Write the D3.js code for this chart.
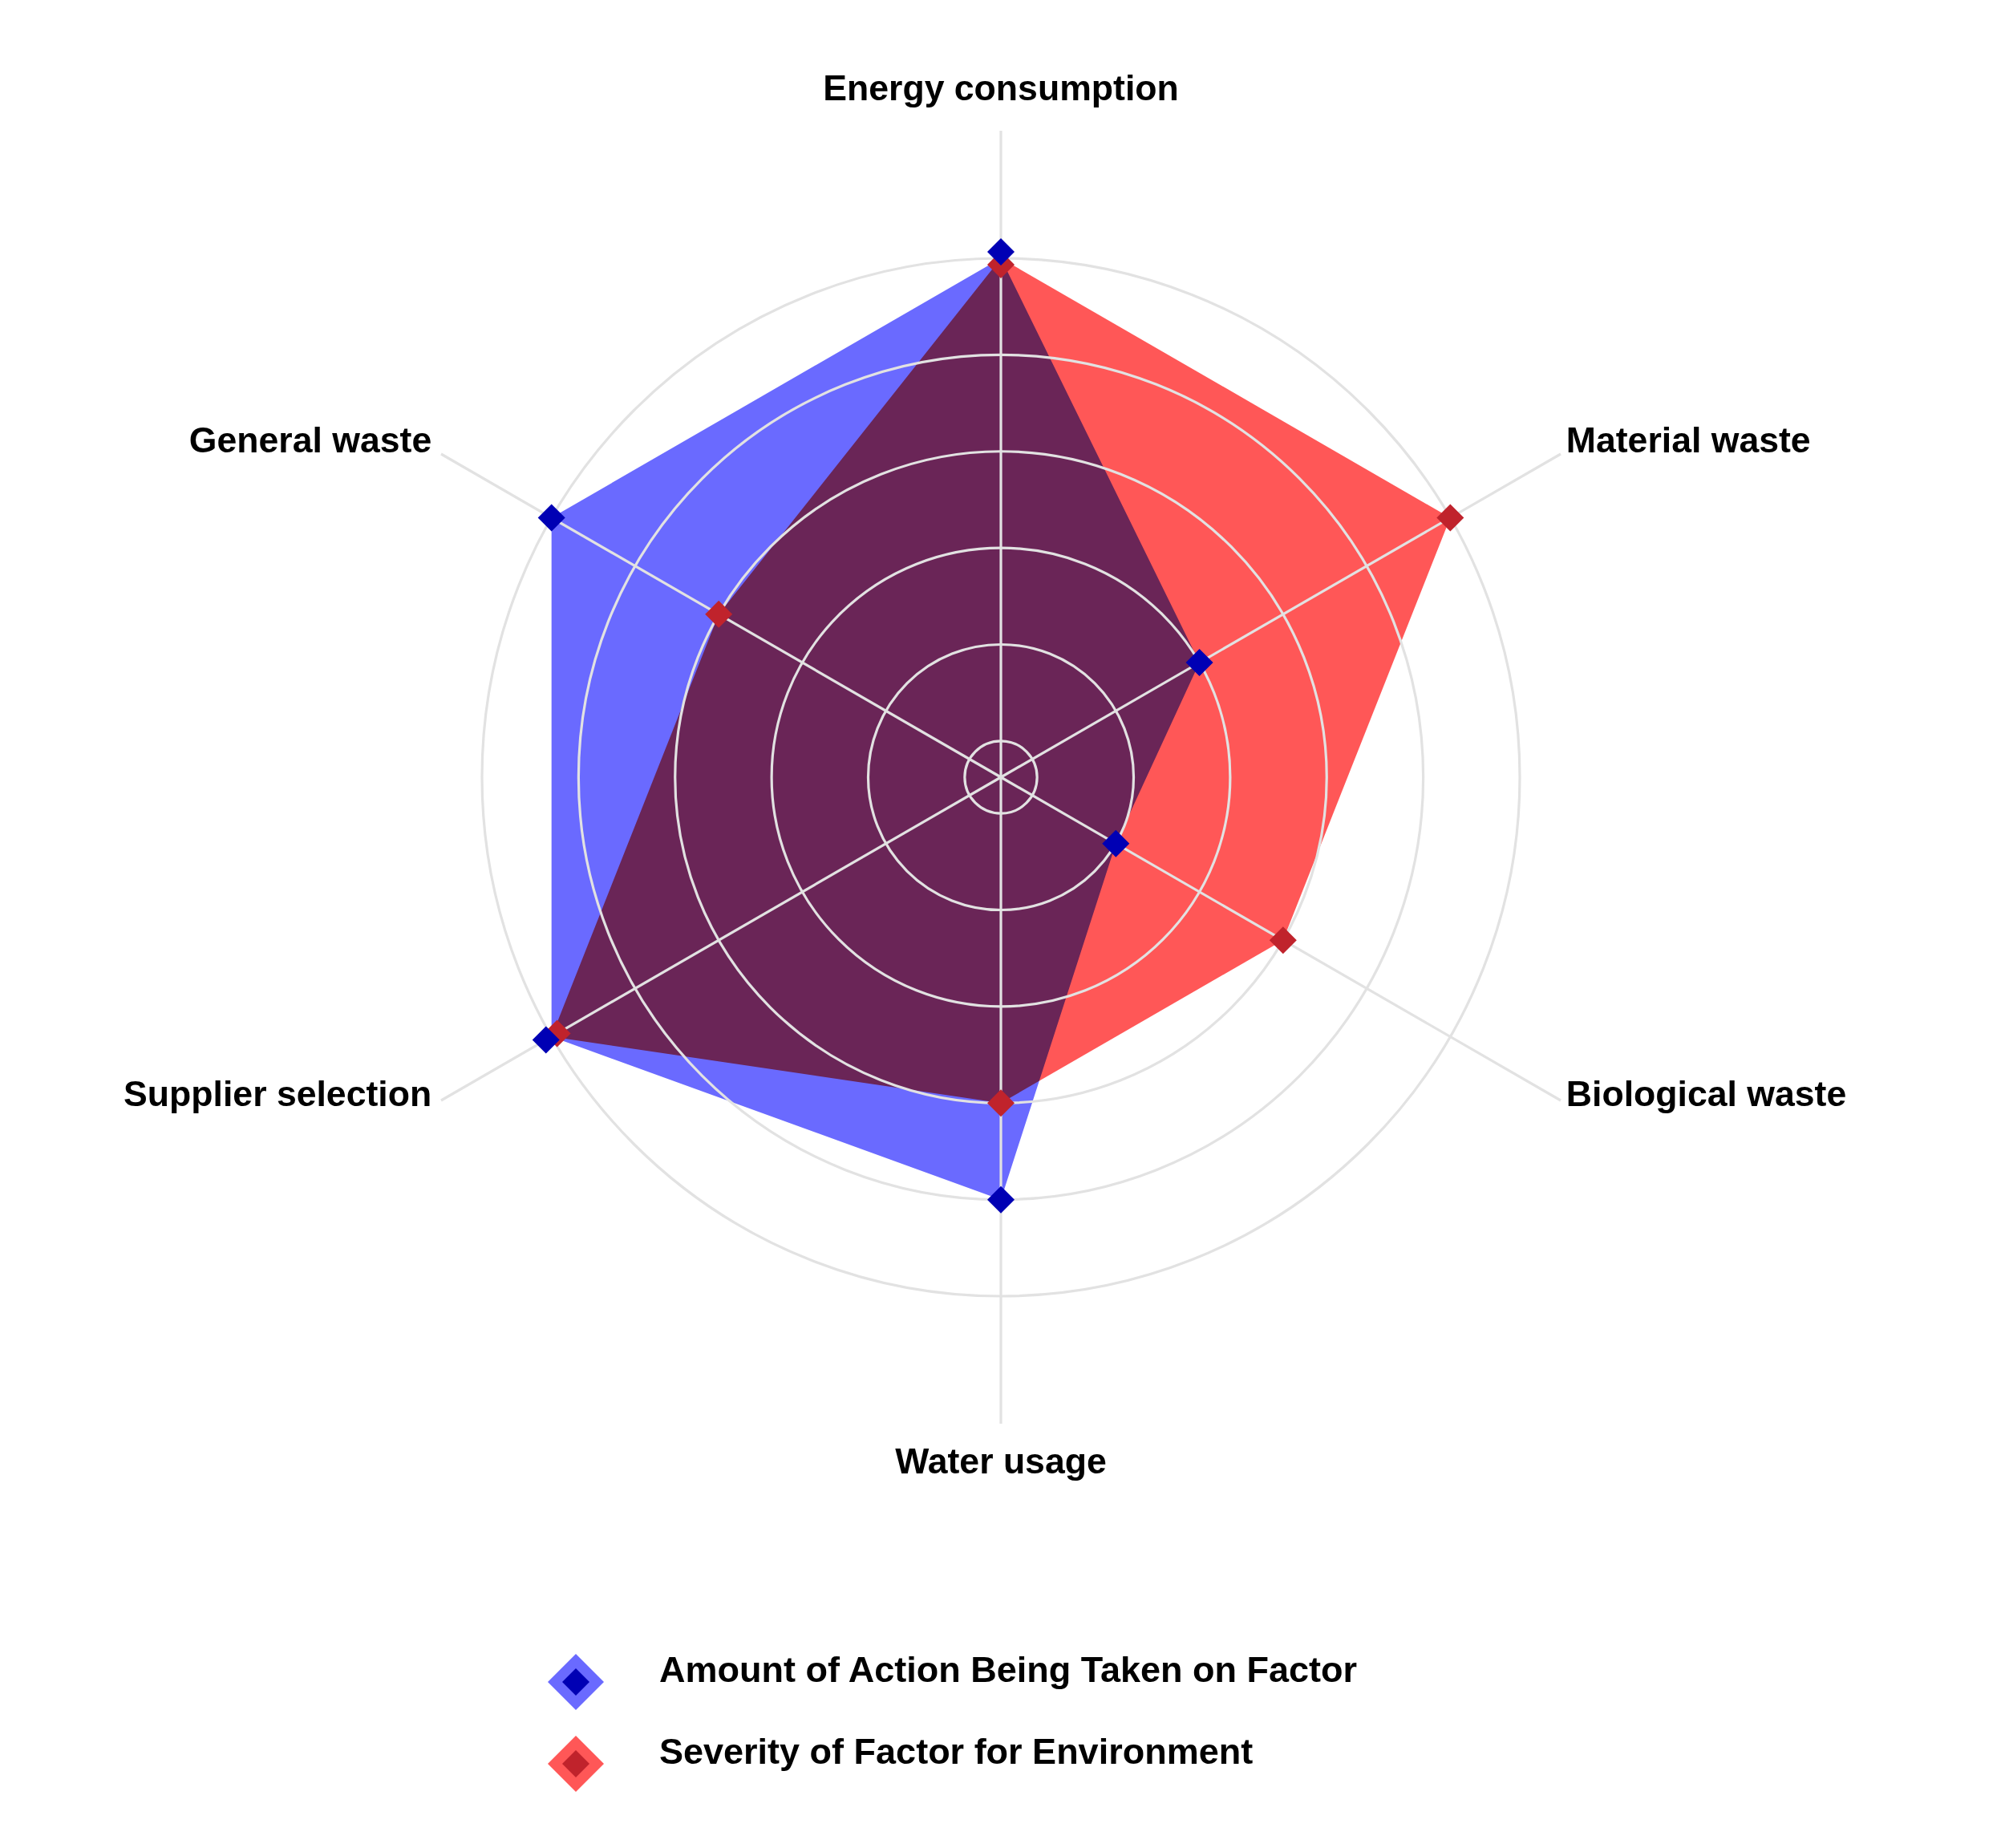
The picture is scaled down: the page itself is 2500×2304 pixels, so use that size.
<!DOCTYPE html>
<html>
<head>
<meta charset="utf-8">
<script src="https://cdn.jsdelivr.net/npm/d3@7"></script>
<style>
  html, body { margin: 0; padding: 0; background: #ffffff; }
  svg { display: block; }
  text { font-family: "Liberation Sans", Arial, Helvetica, sans-serif; font-weight: bold; fill: #000; }
</style>
</head>
<body>
<script>
// ---- data ----
const categories = ["Energy consumption", "Material waste", "Biological waste", "Water usage", "Supplier selection", "General waste"];
const seriesNames = ["Amount of Action Being Taken on Factor", "Severity of Factor for Environment"];
const actionValues = [5, 2, 1, 4, 5, 5];
const severityValues = [5, 5, 3, 3, 5, 3];
const ringValues = [0, 1, 2, 3, 4, 5];
const fillColors = ["#6a6aff", "#ff5757"];
const markerColors = ["#0000b4", "#c0232c"];

// ---- layout ----
const W = 2500, H = 2304;
const cx = 1248, cy = 969;
const outerR = 647;
const spokeR = 806;
const labelR = 815;

const svg = d3.select("body").append("svg")
  .attr("width", W).attr("height", H)
  .style("background", "#fff");

svg.append("rect").attr("width", W).attr("height", H).attr("fill", "#fff");

const r = d3.scaleLinear().domain([-0.375, 5]).range([0, outerR]);
const angle = d3.scalePoint().domain(categories).range([0, 2 * Math.PI * (categories.length - 1) / categories.length]);

const g = svg.append("g").attr("transform", `translate(${cx},${cy})`);

function pt(cat, radius) {
  const a = angle(cat);
  return [radius * Math.sin(a), -radius * Math.cos(a)];
}

// ---- fills (multiply blend) ----
const fillG = g.append("g").style("isolation", "isolate");
const seriesData = [actionValues, severityValues];
const lineR = d3.lineRadial().angle((d, i) => angle(categories[i])).radius(d => r(d)).curve(d3.curveLinearClosed);
seriesData.forEach((vals, si) => {
  fillG.append("path")
    .attr("d", lineR(vals))
    .attr("fill", fillColors[si])
    .style("mix-blend-mode", "multiply");
});

// ---- grid (drawn above fills) ----
const gridColor = "#e2e2e2";
g.append("g").selectAll("circle").data(ringValues).join("circle")
  .attr("r", d => r(d))
  .attr("fill", "none")
  .attr("stroke", gridColor)
  .attr("stroke-width", 3.2);

g.append("g").selectAll("line").data(categories).join("line")
  .attr("x1", 0).attr("y1", 0)
  .attr("x2", d => pt(d, spokeR)[0])
  .attr("y2", d => pt(d, spokeR)[1])
  .attr("stroke", gridColor)
  .attr("stroke-width", 3.2);

// ---- markers ----
const diamond = (h) => `M0,${-h}L${h},0L0,${h}L${-h},0Z`;
const overlapShift = 8;
[1, 0].forEach(si => {
  const vals = seriesData[si];
  const other = seriesData[1 - si];
  g.append("g").selectAll("path").data(vals).join("path")
    .attr("d", diamond(17))
    .attr("fill", markerColors[si])
    .attr("transform", (d, i) => {
      let rad = r(d);
      if (other[i] === d) rad += (si === 0 ? overlapShift : -overlapShift);
      const p = pt(categories[i], rad);
      return `translate(${p[0]},${p[1]})`;
    });
});

// ---- axis labels ----
g.append("g").selectAll("text").data(categories).join("text")
  .attr("font-size", 44.6)
  .each(function (d) {
    const a = angle(d);
    const s = Math.sin(a), c = Math.cos(a);
    const p = pt(d, labelR);
    const t = d3.select(this).text(d);
    if (Math.abs(s) < 0.01) {
      t.attr("text-anchor", "middle").attr("x", p[0])
       .attr("y", c > 0 ? p[1] - 29 : p[1] + 53);
    } else if (s > 0) {
      t.attr("text-anchor", "start").attr("x", p[0] - 1).attr("y", p[1] + 2.5);
    } else {
      t.attr("text-anchor", "end").attr("x", p[0] - 4).attr("y", p[1] + 2.5);
    }
  });

// ---- legend ----
const legendX = 718, legendY0 = 2097, legendStep = 102;
const leg = svg.append("g");
seriesNames.forEach((name, i) => {
  const y = legendY0 + i * legendStep;
  const lg = leg.append("g").attr("transform", `translate(${legendX},${y})`);
  lg.append("path").attr("d", diamond(35)).attr("fill", fillColors[i]);
  lg.append("path").attr("d", diamond(17)).attr("fill", markerColors[i]);
  leg.append("text").attr("x", 822).attr("y", y).attr("font-size", 45).text(name);
});
</script>
</body>
</html>
